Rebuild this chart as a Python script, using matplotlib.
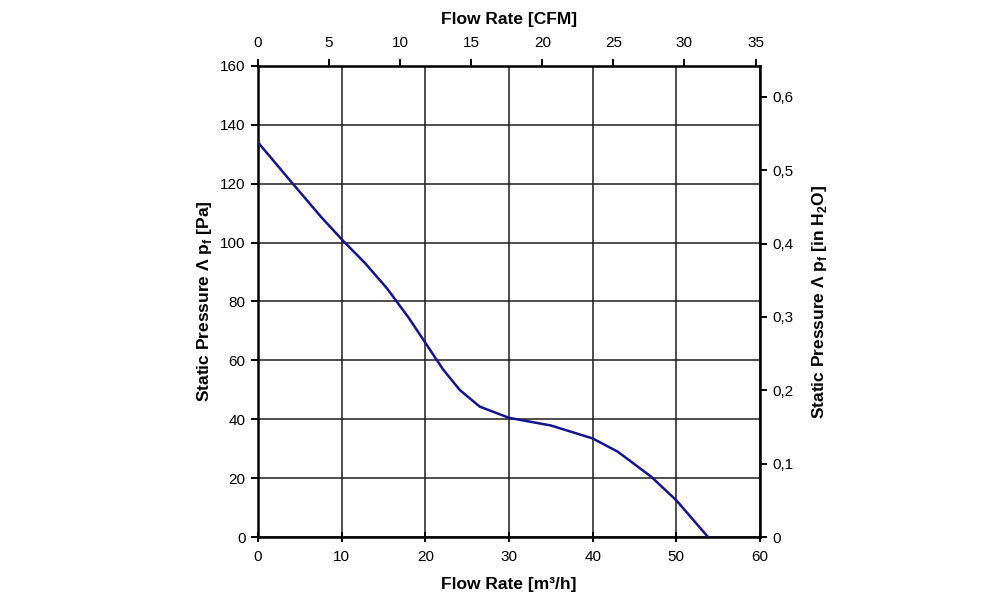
import matplotlib
matplotlib.use("Agg")
import matplotlib.pyplot as plt
from matplotlib.ticker import FuncFormatter

# fan curve (flow in m3/h, static pressure in Pa)
flow_m3h = [0, 4.0, 7.6, 10.2, 12.8, 15.4, 18.0, 20.0, 22.1, 24.1, 26.5, 30.0, 35.0, 40.0, 43.0, 47.0, 50.0, 53.8]
pressure_pa = [134, 120.5, 108.5, 100.5, 93, 84.5, 74.5, 66, 57, 50, 44.3, 40.5, 37.9, 33.5, 29, 20.5, 12.5, 0]

x_ticks = [0, 10, 20, 30, 40, 50, 60]
y_ticks = [0, 20, 40, 60, 80, 100, 120, 140, 160]
cfm_ticks = [0, 5, 10, 15, 20, 25, 30, 35]
inh2o_ticks = [0, 0.1, 0.2, 0.3, 0.4, 0.5, 0.6]

M3H_PER_CFM = 1.699
PA_PER_INH2O = 249.09

plt.rcParams["font.family"] = ["Liberation Sans", "DejaVu Sans"]
plt.rcParams["mathtext.fontset"] = "custom"
plt.rcParams["mathtext.rm"] = "Liberation Sans"
plt.rcParams["mathtext.bf"] = "Liberation Sans:bold"

fig = plt.figure(figsize=(10, 6.09), dpi=100)
ax = fig.add_axes([0.258, 0.118, 0.502, 0.774])

ax.plot(flow_m3h, pressure_pa, color="#14148f", linewidth=1.8, zorder=3)

ax.set_xlim(0, 60)
ax.set_ylim(0, 160)
ax.set_xticks(x_ticks)
ax.set_yticks(y_ticks)
ax.grid(True, color="#1e1e1e", linewidth=1.1)
ax.set_axisbelow(True)
for spine in ax.spines.values():
    spine.set_linewidth(1.8)
    spine.set_color("black")

ax.tick_params(axis="x", direction="inout", length=7, width=1.4, labelsize=11, pad=6)
ax.tick_params(axis="y", direction="out", length=5, width=1.4, labelsize=11, pad=4)

ax.set_xlabel("Flow Rate [m³/h]", fontsize=12.5, fontweight="bold", labelpad=9)
ax.set_ylabel(r"Static Pressure Λ p$_\mathbf{f}$ [Pa]", fontsize=12.5, fontweight="bold", labelpad=4)

top = ax.secondary_xaxis("top", functions=(lambda x: x / M3H_PER_CFM, lambda c: c * M3H_PER_CFM))
top.set_xticks(cfm_ticks)
top.tick_params(direction="out", length=5, width=1.4, labelsize=11, pad=6)
top.set_xlabel("Flow Rate [CFM]", fontsize=12.5, fontweight="bold", labelpad=9)

right = ax.secondary_yaxis("right", functions=(lambda p: p / PA_PER_INH2O, lambda h: h * PA_PER_INH2O))
right.set_yticks(inh2o_ticks)
right.yaxis.set_major_formatter(FuncFormatter(lambda v, _: "0" if v == 0 else f"{v:.1f}".replace(".", ",")))
right.tick_params(direction="out", length=5, width=1.4, labelsize=11, pad=4)
right.set_ylabel(r"Static Pressure Λ p$_\mathbf{f}$ [in H$_\mathbf{2}$O]", fontsize=12.5, fontweight="bold", labelpad=12)

fig.savefig("out.png", dpi=100, facecolor="white")
